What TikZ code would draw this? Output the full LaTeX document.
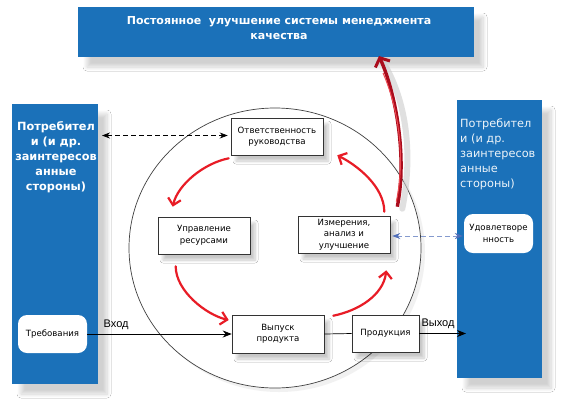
\documentclass[tikz,border=0pt]{standalone}
\usepackage{fontspec}
\setmainfont{DejaVu Sans}
\newfontfamily\arialf{Liberation Sans}
\usetikzlibrary{arrows.meta,calc,shadows.blur}
\definecolor{qblue}{RGB}{27,113,185}
\definecolor{qred}{RGB}{232,28,38}
\definecolor{qdred}{RGB}{170,12,28}
\definecolor{qdash}{RGB}{80,110,185}
\begin{document}
\begin{tikzpicture}[x=1pt,y=-1pt,
  bluebox/.style={fill=qblue, draw=none, inner sep=0pt, outer sep=0pt,
    blur shadow={shadow xshift=9pt, shadow yshift=-10pt, shadow opacity=18, shadow blur steps=8, shadow blur radius=4pt}},
  wbox/.style={draw=black!80, line width=0.6pt, fill=white, inner sep=0pt, align=center,
    font=\fontsize{8.6}{11.5}\selectfont, minimum width=92pt, minimum height=37pt,
    blur shadow={shadow xshift=5pt, shadow yshift=-6pt, shadow opacity=22, shadow blur steps=6, shadow blur radius=3pt}},
  rbox/.style={draw=none, fill=white, rounded corners=9pt, inner sep=0pt, align=center,
    font=\fontsize{8.6}{11.5}\selectfont},
  btext/.style={text=white, inner sep=0pt, font=\fontsize{11.3}{15}\selectfont},
  redarr/.style={draw=qred, line width=2.2pt, line cap=round,
    -{Straight Barb[length=6.5pt,width=13pt,line width=2.2pt]}},
  flowarr/.style={draw=black, line width=0.7pt, -{Stealth[length=9pt,width=7pt]}},
  lbl/.style={font=\arialf\fontsize{11}{13}\selectfont, inner sep=0pt}
]
\useasboundingbox (0,0) rectangle (561,402);
\fill[white] (0,0) rectangle (561,402);

% circle
\fill[black!10, opacity=0.5] (279,252) ellipse [x radius=146, y radius=140];
\fill[white] (275,248) ellipse [x radius=146, y radius=140];
\draw[black!75, line width=0.7pt] (275,248) ellipse [x radius=146, y radius=140];

% blue boxes
\node[bluebox, minimum width=396pt, minimum height=50pt] (ban) at (276,32) {};
\node[btext, align=center, font=\bfseries\fontsize{11}{15}\selectfont] (bant) at (279,28) {Постоянное\ \ улучшение системы менеджмента\\качества};
\node[bluebox, minimum width=86pt, minimum height=280pt] (lbox) at (55,244) {};
\node[btext, align=center, anchor=north, font=\bfseries\fontsize{11.3}{15}\selectfont] (lt) at (56,121) {Потребител\\и (и др.\\заинтересов\\анные\\стороны)};
\node[bluebox, minimum width=85pt, minimum height=278pt] (rbx) at (499.5,239) {};
\node[btext, align=left, anchor=north west, text=white!92!qblue] (rt) at (460,119) {Потребител\\и (и др.\\заинтересов\\анные\\стороны)};

% rounded white nodes
\node[rbox, minimum width=69pt, minimum height=38pt] (treb) at (52.5,334) {Требования};
\node[rbox, minimum width=69pt, minimum height=39pt] (udov) at (498.5,233.5) {Удовлетворе\\нность};

% white boxes
\node[wbox] (otv) at (277,136.5) {Ответственность\\руководства};
\node[wbox] (upr) at (204,235.5) {Управление\\ресурсами};
\node[wbox] (izm) at (344,234.5) {Измерения,\\анализ и\\улучшение};
\node[wbox, minimum height=38pt] (vyp) at (278,334) {Выпуск\\продукта};
\node[wbox, minimum width=67pt] (prod) at (385.5,333.5) {Продукция};

% flow
\draw[flowarr] (treb.east) -- node[lbl, pos=0.2, above=4pt] (vhod) {Вход} (vyp.west);
\draw[black, line width=0.7pt] (vyp.east) -- (prod.west);
\draw[flowarr] (prod.east) -- node[lbl, pos=0.4, above=4pt] (vyh) {Выход} ($(rbx.west |- prod.east)+(9,0)$);

% dashed
\draw[black, line width=0.7pt, dash pattern=on 5pt off 3pt,
  {Stealth[length=8pt,width=6pt]}-{Stealth[length=8pt,width=6pt]}]
  ($(lbox.east |- otv.west)+(4,-1)$) -- ($(otv.west)+(-3,-1)$);
\draw[qdash!70, line width=0.8pt, dash pattern=on 5pt off 3pt,
  {Stealth[length=8pt,width=6pt,qdash]}-{Stealth[length=8pt,width=6pt,qdash]}]
  ($(izm.east)+(2,1.5)$) -- ($(udov.west)+(-1,2.5)$);

% red cycle arrows
\draw[redarr] ([shift={(-2,3)}]otv.south west) .. controls +(-25,5) and +(5,-22) .. ([shift={(15,-10)}]upr.north west);
\draw[redarr] ([shift={(18,12)}]upr.south west) .. controls +(0,25) and +(-22,-5) .. ([shift={(-3,-14)}]vyp.west);
\draw[redarr] ([shift={(9,1)}]vyp.north east) .. controls +(25,-5) and +(-3,25) .. ([shift={(-4,17)}]izm.south east);
\draw[redarr] ([shift={(-6,-4)}]izm.north east) .. controls +(0,-25) and +(20,10) .. ([shift={(14,0)}]otv.south east);

% big improvement arrow
\draw[black!20, opacity=0.6, line width=6pt, line cap=round]
  ([shift={(12,-7)}]izm.north east) .. controls +(10,-50) and +(22,40) .. ([shift={(-88,10)}]ban.south east);
\draw[qdred, line width=3.4pt,
  -{Straight Barb[length=7pt,width=16pt,line width=3pt]}]
  ([shift={(7,-9)}]izm.north east) .. controls +(10,-50) and +(17,38) .. ([shift={(-95,-1)}]ban.south east);
\draw[qred!80, line width=1pt]
  ([shift={(6,-14)}]izm.north east) .. controls +(10,-48) and +(14,32) .. ([shift={(-91,16)}]ban.south east);
\end{tikzpicture}
\end{document}
